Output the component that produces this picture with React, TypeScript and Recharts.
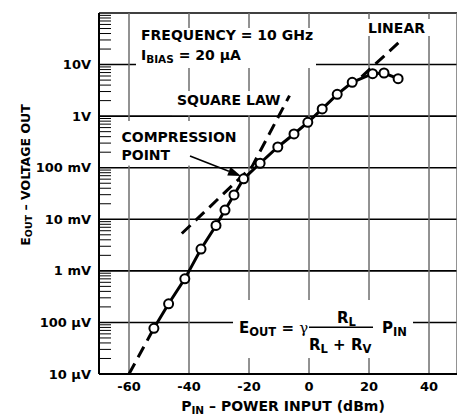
import React from 'react';
import { ComposedChart, Line, XAxis, YAxis, CartesianGrid, ReferenceArea, ReferenceLine } from 'recharts';

// measured detector response
const pinDbm = [-51.7, -46.8, -41.4, -36, -31, -28, -25, -21.8, -16.3, -10.4, -5, -0.4, 4.4, 9.4, 14.4, 21.2, 25, 29.7];
const eOutVolts = [7.7e-5, 2.3e-4, 7.0e-4, 2.65e-3, 7.6e-3, 0.0151, 0.0296, 0.061, 0.122, 0.252, 0.451, 0.76, 1.38, 2.65, 4.53, 6.65, 6.86, 5.32];

// dashed asymptotes
const lowLawX = [-60, -51.7];
const lowLawY = [1e-5, 7.7e-5];
const squareLawX = [-42.4, -19, -6.5];
const squareLawY = [5.3e-3, 0.105, 2.5];
const linearX = [17.5, 30.3];
const linearY = [5.8, 28];

const xTicks = [-60, -40, -20, 0, 20, 40];
const yTicks = [1e-5, 1e-4, 1e-3, 1e-2, 0.1, 1, 10, 100];
const yTickLabels = ['10 \u00b5V', '100 \u00b5V', '1 mV', '10 mV', '100 mV', '1V', '10V', ''];
const minorSteps = [2, 3, 4, 5, 6, 7, 8, 9];

const zip = (xs: number[], ys: number[]) => xs.map((x, i) => ({ x, y: ys[i] }));
const mainData = zip(pinDbm, eOutVolts);

const FONT = 'DejaVu Sans';
const txt = { fontFamily: FONT, fontWeight: 'bold' as const, fill: '#000' };

const minorTicks: number[] = [];
yTicks.slice(0, -1).forEach((d) => minorSteps.forEach((m) => minorTicks.push(d * m)));

const Arrow = (p: any) => {
  const { x1, y1, x2, y2 } = p;
  const ang = Math.atan2(y2 - y1, x2 - x1);
  const len = 13;
  const w = 4.5;
  const bx = x2 - len * Math.cos(ang);
  const by = y2 - len * Math.sin(ang);
  const nx = -Math.sin(ang) * w;
  const ny = Math.cos(ang) * w;
  return (
    <g>
      <line x1={x1} y1={y1} x2={bx} y2={by} stroke="#000" strokeWidth={1.6} />
      <polygon points={`${x2},${y2} ${bx + nx},${by + ny} ${bx - nx},${by - ny}`} fill="#000" />
    </g>
  );
};

const box = (draw: (x: number, y: number) => React.ReactNode) => (p: any) => (
  <g>
    <rect x={p.x} y={p.y} width={p.width} height={p.height} fill="#fff" />
    {draw(p.x, p.y)}
  </g>
);

export default function App() {
  return (
    <div style={{ position: 'absolute', left: 0, top: 0, background: '#fff' }}>
      <ComposedChart width={457} height={416} margin={{ top: 13, right: 0, bottom: 0, left: 0 }}>
        <CartesianGrid vertical={false} stroke="#000" strokeWidth={1.6} />
        <CartesianGrid horizontal={false} stroke="#6e6e6e" strokeWidth={1.5} />
        <XAxis
          type="number"
          dataKey="x"
          domain={[-70, 49.33]}
          allowDataOverflow
          ticks={xTicks}
          interval={0}
          height={42}
          tickLine={false}
          axisLine={{ stroke: '#000', strokeWidth: 2 }}
          tick={{ ...txt, fontSize: 13 }}
          label={{
            content: (p: any) => (
              <text x={p.viewBox.x + 184} y={p.viewBox.y + 37} textAnchor="middle" {...txt} fontSize={14}>
                P<tspan fontSize={10.5} dy={3}>IN</tspan>
                <tspan dy={-3}> {'\u2013'} POWER INPUT (dBm)</tspan>
              </text>
            ),
          }}
        />
        <YAxis
          type="number"
          scale="log"
          domain={[1e-5, 100]}
          allowDataOverflow
          ticks={yTicks}
          interval={0}
          width={99}
          tickLine={false}
          axisLine={{ stroke: '#000', strokeWidth: 2 }}
          tick={{ ...txt, fontSize: 13 }}
          tickFormatter={(v: number, i: number) => yTickLabels[i] ?? ''}
          label={{
            content: (p: any) => {
              const cx = 25;
              const cy = p.viewBox.y + 162;
              return (
                <text x={cx} y={cy} transform={`rotate(-90 ${cx} ${cy})`} textAnchor="middle" dominantBaseline="central" {...txt} fontSize={12.5}>
                  E<tspan fontSize={9.5} dy={2.5}>OUT</tspan>
                  <tspan dy={-2.5}> {'\u2013'} VOLTAGE OUT</tspan>
                </text>
              );
            },
          }}
        />

        {minorTicks.map((v) => (
          <ReferenceLine key={v} segment={[{ x: -70, y: v }, { x: -66, y: v }]} stroke="#000" strokeWidth={1} ifOverflow="visible" />
        ))}

        {/* annotation boxes, they blank the grid behind the text */}
        <ReferenceArea
          x1={-57.67} x2={2.33} y1={8.58} y2={51.2}
          shape={box((x, y) => (
            <>
              <text x={x + 5} y={y + 12} {...txt} fontSize={14}>FREQUENCY = 10 GHz</text>
              <text x={x + 5} y={y + 32} {...txt} fontSize={14}>
                I<tspan fontSize={10.5} dy={3}>BIAS</tspan>
                <tspan dy={-3}> = 20 {'\u00b5'}A</tspan>
              </text>
            </>
          ))}
        />
        <ReferenceArea
          x1={-45.67} x2={-8} y1={1.05} y2={3.07}
          shape={box((x, y) => (
            <text x={x + 5} y={y + 14} {...txt} fontSize={14}>SQUARE LAW</text>
          ))}
        />
        <ReferenceArea
          x1={-64.33} x2={-22} y1={0.11} y2={0.805}
          shape={box((x, y) => (
            <>
              <text x={x + 5.5} y={y + 21} {...txt} fontSize={14}>COMPRESSION</text>
              <text x={x + 5.5} y={y + 39} {...txt} fontSize={14}>POINT</text>
            </>
          ))}
        />
        <ReferenceArea
          x1={18.33} x2={41} y1={35.8} y2={76.5}
          shape={box((x, y) => (
            <text x={x + 4} y={y + 14.5} {...txt} fontSize={14}>LINEAR</text>
          ))}
        />
        <ReferenceArea
          x1={-25.33} x2={34.67} y1={2.04e-5} y2={2.72e-4}
          shape={box((x, y) => (
            <>
              <text x={x + 6} y={y + 33} {...txt} fontSize={15}>
                E<tspan fontSize={11.5} dy={3}>OUT</tspan>
                <tspan dy={-3}> = </tspan>
                <tspan fontWeight="normal" fontFamily="DejaVu Serif">{'\u03b3'}</tspan>
              </text>
              <line x1={x + 76} x2={x + 140} y1={y + 27.3} y2={y + 27.3} stroke="#000" strokeWidth={1.6} />
              <text x={x + 104} y={y + 23} {...txt} fontSize={15}>
                R<tspan fontSize={11.5} dy={3}>L</tspan>
              </text>
              <text x={x + 76} y={y + 50} {...txt} fontSize={15}>
                R<tspan fontSize={11.5} dy={3}>L</tspan>
                <tspan dy={-3}> +  R</tspan>
                <tspan fontSize={11.5} dy={3}>V</tspan>
              </text>
              <text x={x + 149} y={y + 33} {...txt} fontSize={15}>
                P<tspan fontSize={11.5} dy={3}>IN</tspan>
              </text>
            </>
          ))}
        />

        <ReferenceLine
          segment={[{ x: -39.67, y: 0.1686 }, { x: -22.67, y: 0.069 }]}
          ifOverflow="visible"
          shape={Arrow}
        />

        <Line data={zip(lowLawX, lowLawY)} dataKey="y" stroke="#000" strokeWidth={3} strokeDasharray="12 7" dot={false} isAnimationActive={false} />
        <Line data={zip(squareLawX, squareLawY)} dataKey="y" stroke="#000" strokeWidth={3} strokeDasharray="12 7" dot={false} isAnimationActive={false} />
        <Line data={zip(linearX, linearY)} dataKey="y" stroke="#000" strokeWidth={3} strokeDasharray="12 7" dot={false} isAnimationActive={false} />
        <Line
          data={mainData}
          dataKey="y"
          stroke="#000"
          strokeWidth={3}
          dot={{ r: 4.5, fill: '#fff', stroke: '#000', strokeWidth: 2 }}
          isAnimationActive={false}
        />
      </ComposedChart>
    </div>
  );
}
